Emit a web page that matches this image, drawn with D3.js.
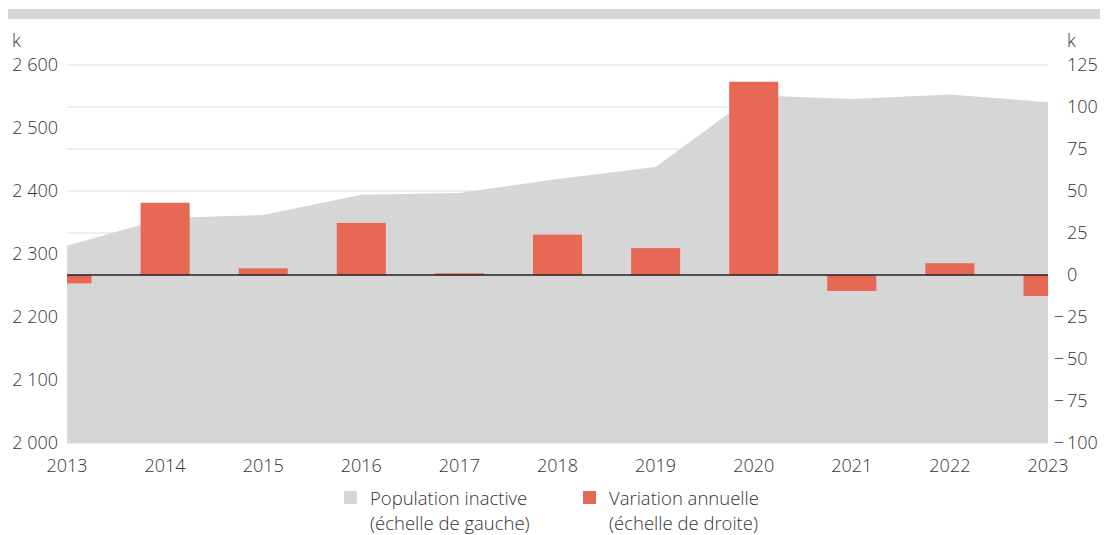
<!DOCTYPE html>
<html>
<head>
<meta charset="utf-8">
<script src="https://cdn.jsdelivr.net/npm/d3@7"></script>
<style>
  body { margin: 0; background: #fff; }
  svg text { font-family: "Open Sans", sans-serif; fill: #333; font-weight: 300; }
</style>
</head>
<body>
<div id="chart"></div>
<script>
let width = 1104,
    height = 535

// data
let years = [2013, 2014, 2015, 2016, 2017, 2018, 2019, 2020, 2021, 2022, 2023]
let population = [2313, 2357, 2362, 2394, 2397, 2419, 2438, 2552, 2546, 2553, 2541]
let variation = [-5, 43, 4, 31, 1, 24, 16, 115, -9.5, 7, -12.5]
let leftTicks = [2000, 2100, 2200, 2300, 2400, 2500, 2600]
let rightTicks = [-100, -75, -50, -25, 0, 25, 50, 75, 100, 125]
let legendLabels = [
  ["Population inactive", "(échelle de gauche)"],
  ["Variation annuelle", "(échelle de droite)"]
]

let areaColor = "#d5d6d5",
    barColor = "#e86856"

let svg = d3.select("#chart").append("svg")
  .attr("width", width)
  .attr("height", height)

// top rule
svg.append("rect")
  .attr("x", 8).attr("y", 9)
  .attr("width", 1092).attr("height", 10)
  .attr("fill", areaColor)

let x = d3.scaleLinear()
  .domain([2013, 2023])
  .range([67, 1048])

let yLeft = d3.scaleLinear()
  .domain([2000, 2600])
  .range([443, 65])

let yRight = d3.scaleLinear()
  .domain([-100, 125])
  .range([443, 65])

let step = x(2014) - x(2013)
let barW = step / 2

// gridlines on the right-hand scale
svg.append("g")
  .selectAll("line")
  .data(rightTicks)
  .enter().append("line")
  .attr("x1", x(2013)).attr("x2", x(2023))
  .attr("y1", d => yRight(d)).attr("y2", d => yRight(d))
  .attr("stroke", "#dcdcdc")
  .attr("stroke-width", 1)

// area
let area = d3.area()
  .x((d, i) => x(years[i]))
  .y0(yLeft(2000))
  .y1(d => yLeft(d))

svg.append("path")
  .datum(population)
  .attr("d", area)
  .attr("fill", areaColor)

// bars, clipped to the plot
svg.append("clipPath").attr("id", "plot")
  .append("rect")
  .attr("x", x(2013)).attr("y", 0)
  .attr("width", x(2023) - x(2013)).attr("height", height)

svg.append("g")
  .attr("clip-path", "url(#plot)")
  .selectAll("rect")
  .data(variation)
  .enter().append("rect")
  .attr("x", (d, i) => x(years[i]) - barW / 2)
  .attr("width", barW)
  .attr("y", d => yRight(Math.max(0, d)))
  .attr("height", d => Math.abs(yRight(d) - yRight(0)))
  .attr("fill", barColor)

// zero line
svg.append("line")
  .attr("x1", x(2013)).attr("x2", x(2023))
  .attr("y1", yRight(0)).attr("y2", yRight(0))
  .attr("stroke", "#222")
  .attr("stroke-width", 1.3)

// left axis labels
let fmtLeft = d => d3.format(",")(d).replace(",", " ")
svg.append("g")
  .selectAll("text")
  .data(leftTicks)
  .enter().append("text")
  .attr("x", 58)
  .attr("y", d => yLeft(d) + 6)
  .attr("text-anchor", "end")
  .style("font-size", "18px")
  .text(fmtLeft)

svg.append("text")
  .attr("x", 12).attr("y", 47)
  .style("font-size", "18px")
  .text("k")

// right axis labels (minus sign hangs to the left)
let right = svg.append("g")
right.selectAll("text.num")
  .data(rightTicks)
  .enter().append("text")
  .attr("class", "num")
  .attr("x", 1067)
  .attr("y", d => yRight(d) + 6)
  .style("font-size", "18px")
  .text(d => Math.abs(d))

right.selectAll("text.minus")
  .data(rightTicks.filter(d => d < 0))
  .enter().append("text")
  .attr("class", "minus")
  .attr("x", 1064)
  .attr("y", d => yRight(d) + 6)
  .attr("text-anchor", "end")
  .style("font-size", "18px")
  .text("\u2212")

svg.append("text")
  .attr("x", 1067).attr("y", 47)
  .style("font-size", "18px")
  .text("k")

// x axis labels
svg.append("g")
  .selectAll("text")
  .data(years)
  .enter().append("text")
  .attr("x", d => x(d))
  .attr("y", 472)
  .attr("text-anchor", "middle")
  .style("font-size", "18px")
  .text(d => d)

// legend
let legendX = [344, 583],
    legendColors = [areaColor, barColor]

let legend = svg.append("g")
  .selectAll("g")
  .data(legendLabels)
  .enter().append("g")
  .attr("transform", (d, i) => "translate(" + legendX[i] + ",0)")

legend.append("rect")
  .attr("x", 0).attr("y", 491)
  .attr("width", 13).attr("height", 13)
  .attr("fill", (d, i) => legendColors[i])

legend.append("text")
  .attr("x", 26)
  .attr("y", 505)
  .style("font-size", "18.5px")
  .selectAll("tspan")
  .data(d => d)
  .enter().append("tspan")
  .attr("x", 26)
  .attr("dy", (d, i) => i === 0 ? 0 : 25)
  .text(d => d)
</script>
</body>
</html>
